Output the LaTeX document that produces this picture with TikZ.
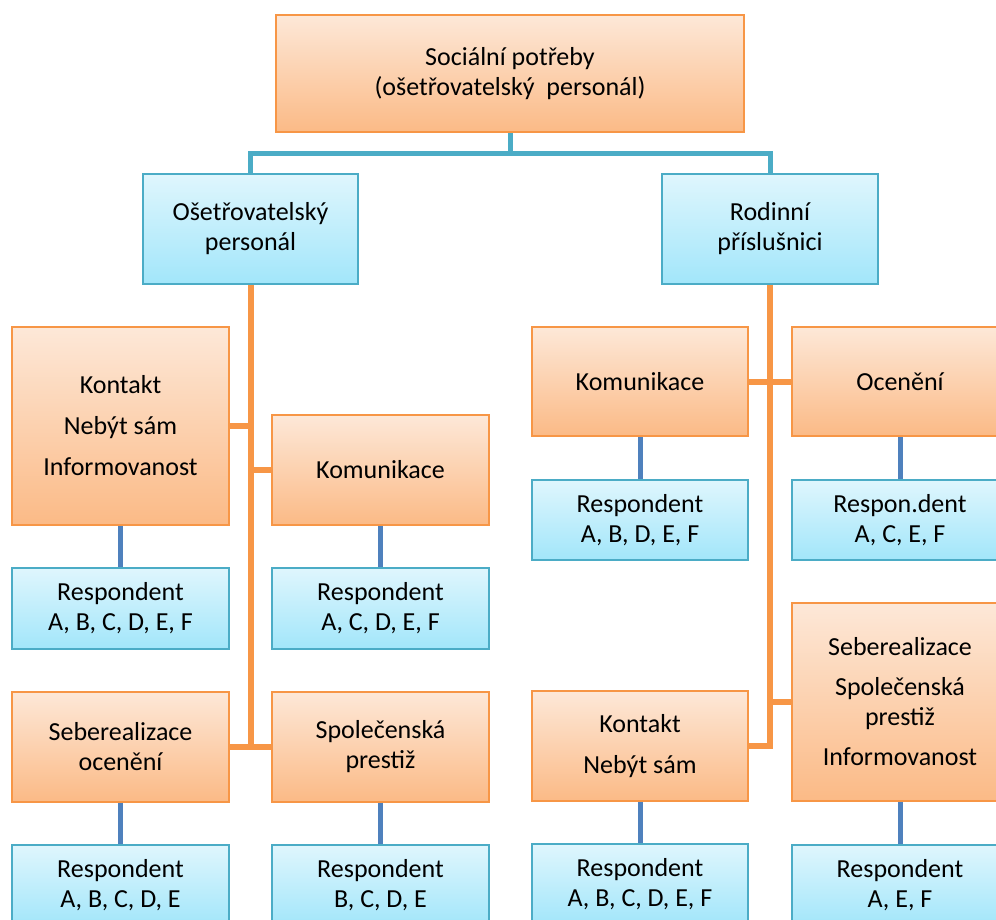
\documentclass[tikz,border=0pt]{standalone}
\usepackage{fontspec}
\setmainfont{Carlito}
\usepackage{tikz}
\definecolor{orangeEdge}{HTML}{F79646}
\definecolor{orangeTop}{HTML}{FDE8D8}
\definecolor{orangeBot}{HTML}{FBBA86}
\definecolor{aquaEdge}{HTML}{4BACC6}
\definecolor{aquaTop}{HTML}{DFF6FD}
\definecolor{aquaBot}{HTML}{A2E6FA}
\definecolor{blueLink}{HTML}{4F81BD}
\tikzset{
  orangeBox/.style={draw=orangeEdge, line width=2pt, top color=orangeTop, bottom color=orangeBot,
    minimum width=217pt, minimum height=110pt, inner sep=0pt, align=center,
    font=\fontsize{26}{30}\selectfont},
  aquaBox/.style={orangeBox, draw=aquaEdge, top color=aquaTop, bottom color=aquaBot},
  respBox/.style={aquaBox, minimum height=81pt},
  aquaLink/.style={draw=aquaEdge, line width=5pt},
  trunkLink/.style={draw=orangeEdge, line width=6pt},
  respLink/.style={draw=blueLink, line width=5pt}
}

\begin{document}
\begin{tikzpicture}[x=1pt,y=-1pt]
  \clip (0,0) rectangle (996,919);

  % top and second level
  \node[orangeBox, minimum width=468pt, minimum height=117pt] (top) at (510,73.5)
    {Sociální potřeby\\(ošetřovatelský\ \ personál)};
  \node[aquaBox, minimum width=215pt] (nurse) at (250.5,229) {Ošetřovatelský\\personál};
  \node[aquaBox, minimum width=216pt] (family) at (770,229) {Rodinní\\příslušnici};

  % nursing staff branch
  \node[orangeBox, minimum height=198pt] (nKontakt) at (120.5,426)
    {Kontakt\\[11pt]Nebýt sám\\[11pt]Informovanost};
  \node[orangeBox] (nKomunikace) at (380.5,470) {Komunikace};
  \node[respBox] (nResp1) at (120.5,608.5) {Respondent\\A, B, C, D, E, F};
  \node[respBox] (nResp2) at (380.5,608.5) {Respondent\\A, C, D, E, F};
  \node[orangeBox] (nSeber) at (120.5,746.5) {Seberealizace\\ocenění};
  \node[orangeBox] (nPrestiz) at (380.5,746.5) {Společenská\\prestiž};
  \node[respBox] (nResp3) at (120.5,885.5) {Respondent\\A, B, C, D, E};
  \node[respBox] (nResp4) at (380.5,885.5) {Respondent\\B, C, D, E};

  % family branch
  \node[orangeBox, minimum width=216pt, minimum height=109pt] (fKomunikace) at (640,381.5) {Komunikace};
  \node[orangeBox, minimum width=216pt, minimum height=109pt] (fOceneni) at (900,381.5) {Ocenění};
  \node[respBox, minimum width=216pt, minimum height=80pt] (fResp1) at (640,520) {Respondent\\A, B, D, E, F};
  \node[respBox, minimum width=216pt, minimum height=80pt] (fResp2) at (900,520) {Respon.dent\\A, C, E, F};
  \node[orangeBox, minimum width=216pt] (fKontakt) at (640,746) {Kontakt\\[11pt]Nebýt sám};
  \node[orangeBox, minimum width=216pt, minimum height=198pt] (fSeber) at (900,702)
    {Seberealizace\\[10pt]Společenská\\prestiž\\[10pt]Informovanost};
  \node[respBox, minimum width=216pt] (fResp3) at (640,884) {Respondent\\A, B, C, D, E, F};
  \node[respBox, minimum width=216pt] (fResp4) at (900,885.5) {Respondent\\A, E, F};

  % connectors
  \coordinate (split) at (510,153);
  \draw[aquaLink] (top.south) -- (split);
  \draw[aquaLink] (nurse.north) |- (split) -| (family.north);

  \draw[trunkLink] (nurse.south) |- (nSeber.east);
  \draw[trunkLink] (nurse.south |- nPrestiz.west) -- (nPrestiz.west);
  \draw[trunkLink] (nKontakt.east) -- (nKontakt.east -| nurse.south);
  \draw[trunkLink] (nKomunikace.west) -- (nKomunikace.west -| nurse.south);

  \draw[trunkLink] (family.south) |- (fKontakt.east);
  \draw[trunkLink] (fKomunikace.east) -- (fOceneni.west);
  \draw[trunkLink] (fSeber.west) -- (fSeber.west -| family.south);

  \foreach \a/\b in {nKontakt/nResp1, nKomunikace/nResp2, nSeber/nResp3, nPrestiz/nResp4,
                     fKomunikace/fResp1, fOceneni/fResp2, fKontakt/fResp3, fSeber/fResp4}
    \draw[respLink] (\a.south) -- (\b.north);
\end{tikzpicture}
\end{document}
